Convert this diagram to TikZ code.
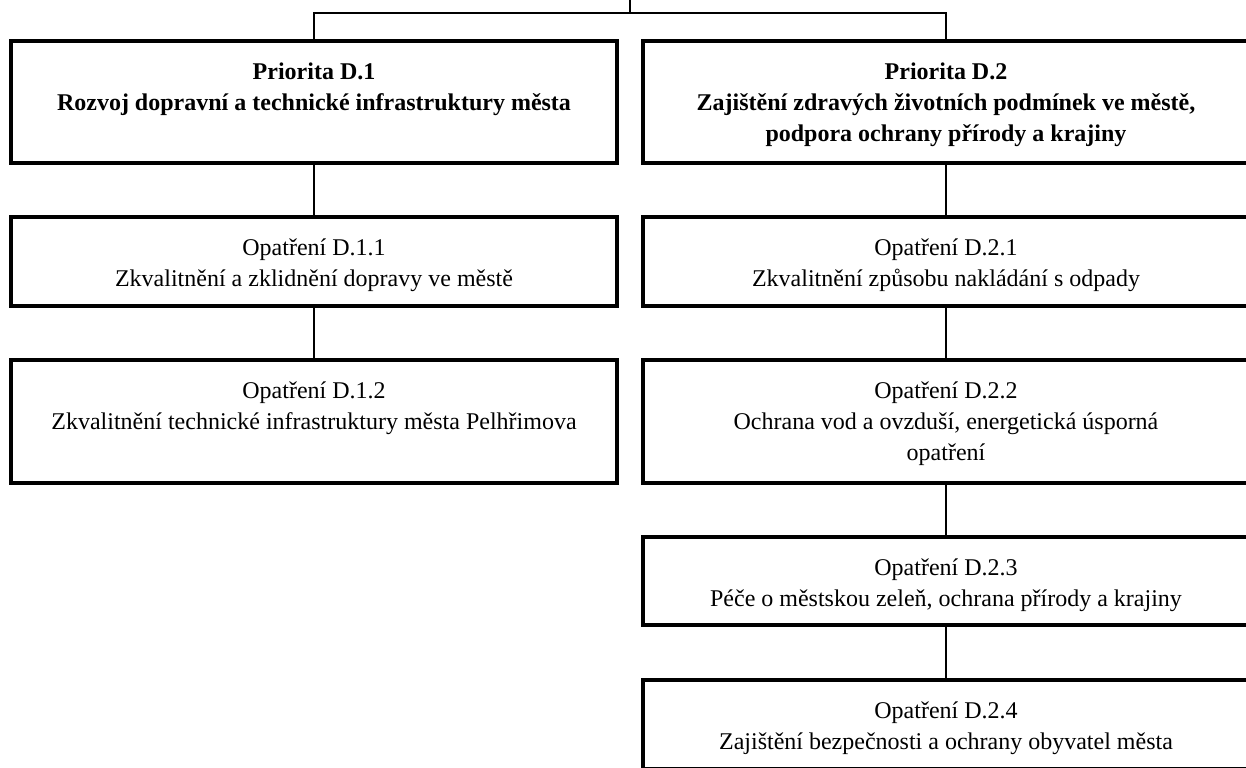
\documentclass[tikz,border=0pt]{standalone}
\usepackage{fontspec}
\setmainfont{Liberation Serif}
\begin{document}
\begin{tikzpicture}[x=0.5pt,y=-0.5pt,
  box/.style={draw=black, line width=2pt, fill=white, inner sep=0pt, outer sep=0pt, minimum width=303pt},
  lbl/.style={align=center, inner sep=0pt, anchor=base, font=\fontsize{12}{15.5}\selectfont},
  blbl/.style={lbl, font=\fontsize{12}{15.5}\selectfont\bfseries},
  conn/.style={draw=black, line width=0.7pt}]
\useasboundingbox (0,0) rectangle (1246,767);
\clip (0,0) rectangle (1246,767);
% boxes
\node[box, minimum height=61pt]   (d1)  at (314,102)   {};
\node[box, minimum height=61pt]   (d2)  at (946,102)   {};
\node[box, minimum height=44.5pt] (d11) at (314,261.5) {};
\node[box, minimum height=44.5pt] (d21) at (946,261.5) {};
\node[box, minimum height=61.5pt] (d12) at (314,421.5) {};
\node[box, minimum height=61.5pt] (d22) at (946,421.5) {};
\node[box, minimum height=44pt]   (d23) at (946,581)   {};
\node[box, minimum height=44.5pt] (d24) at (946,724.5) {};
% labels (base anchor = last line baseline)
\node[blbl] (t1) at ([yshift=-34.5pt]d1.north) {Priorita D.1\\Rozvoj dopravní a technické infrastruktury města};
\node[blbl] (t2) at ([yshift=-50pt]d2.north) {Priorita D.2\\Zajištění zdravých životních podmínek ve městě,\\podpora ochrany přírody a krajiny};
\node[lbl] (t11) at ([yshift=-34.5pt]d11.north) {Opatření D.1.1\\Zkvalitnění a zklidnění dopravy ve městě};
\node[lbl] (t12) at ([yshift=-34.5pt]d12.north) {Opatření D.1.2\\Zkvalitnění technické infrastruktury města Pelhřimova};
\node[lbl] (t21) at ([yshift=-34.5pt]d21.north) {Opatření D.2.1\\Zkvalitnění způsobu nakládání s odpady};
\node[lbl] (t22) at ([yshift=-50pt]d22.north) {Opatření D.2.2\\Ochrana vod a ovzduší, energetická úsporná\\opatření};
\node[lbl] (t23) at ([yshift=-34.5pt]d23.north) {Opatření D.2.3\\Péče o městskou zeleň, ochrana přírody a krajiny};
\node[lbl] (t24) at ([yshift=-34.5pt]d24.north) {Opatření D.2.4\\Zajištění bezpečnosti a ochrany obyvatel města};
% connectors
\coordinate (top) at (630,0);
\coordinate (j) at (630,13);
\draw[conn] (top) -- (j);
\draw[conn] (d1.north) -- (d1.north |- j) -- (d2.north |- j) -- (d2.north);
\draw[conn] (d1.south) -- (d11.north);
\draw[conn] (d11.south) -- (d12.north);
\draw[conn] (d2.south) -- (d21.north);
\draw[conn] (d21.south) -- (d22.north);
\draw[conn] (d22.south) -- (d23.north);
\draw[conn] (d23.south) -- (d24.north);
\end{tikzpicture}
\end{document}
